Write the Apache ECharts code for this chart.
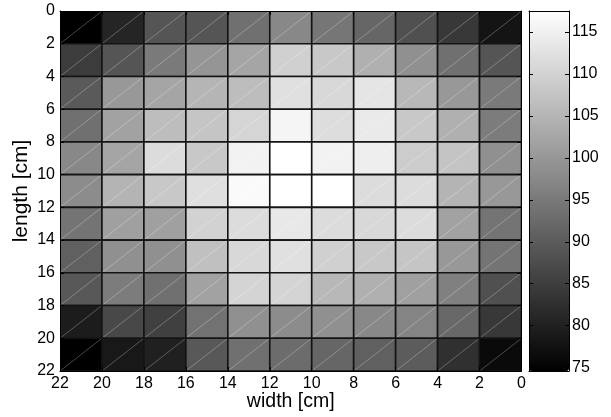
<!DOCTYPE html>
<html>
<head>
<meta charset="utf-8">
<script src="https://cdn.jsdelivr.net/npm/echarts@6/dist/echarts.min.js"></script>
<style>
html,body{margin:0;padding:0;background:#fff;}
#chart{width:611px;height:417px;}
</style>
</head>
<body>
<div id="chart"></div>
<script>
// column centres (width, cm), left to right as drawn
const widthCenters = [21, 19, 17, 15, 13, 11, 9, 7, 5, 3, 1];
// row centres (length, cm), top to bottom as drawn
const lengthCenters = [1, 3, 5, 7, 9, 11, 13, 15, 17, 19, 21];
// cell values, one array per row (length band)
const len_0_2   = [74.6, 80.8, 88.9, 88.9, 93.4, 97.5, 94.5, 91.8, 88.1, 84.0, 78.0];
const len_2_4   = [84.7, 88.9, 95.1, 99.7, 102.4, 109.6, 108.2, 104.2, 98.8, 93.4, 88.9];
const len_4_6   = [89.7, 100.2, 102.4, 105.1, 106.4, 112.3, 111.0, 113.1, 105.6, 100.2, 95.1];
const len_6_8   = [93.4, 101.9, 106.4, 107.7, 110.4, 115.8, 111.8, 114.0, 108.2, 104.2, 95.5];
const len_8_10  = [97.5, 102.4, 111.6, 108.2, 115.3, 117.5, 115.3, 114.6, 108.9, 107.6, 98.8];
const len_10_12 = [98.2, 104.9, 108.2, 112.1, 116.7, 117.5, 117.5, 111.6, 111.6, 104.9, 100.2];
const len_12_14 = [94.1, 101.5, 101.5, 109.9, 111.6, 113.6, 111.6, 111.0, 111.6, 101.9, 94.1];
const len_14_16 = [90.7, 98.8, 98.8, 106.9, 111.0, 112.3, 109.6, 108.2, 107.7, 100.2, 94.1];
const len_16_18 = [89.4, 95.5, 93.4, 101.9, 110.3, 110.3, 105.6, 104.2, 101.5, 96.1, 88.1];
const len_18_20 = [79.3, 86.7, 85.4, 93.8, 98.8, 98.2, 98.8, 97.5, 96.8, 92.1, 84.0];
const len_20_22 = [74.6, 78.6, 80.0, 89.4, 93.4, 92.8, 91.8, 90.7, 90.1, 82.7, 76.3];
const valueRows = [len_0_2, len_2_4, len_4_6, len_6_8, len_8_10, len_10_12,
                   len_12_14, len_14_16, len_16_18, len_18_20, len_20_22];
const axisTickValues = [0, 2, 4, 6, 8, 10, 12, 14, 16, 18, 20, 22];
const colorbarTicks = [75, 80, 85, 90, 95, 100, 105, 110, 115];
const colorMin = 74.6, colorMax = 117.5;

const cells = [];
valueRows.forEach((row, i) => {
  row.forEach((v, j) => cells.push([widthCenters[j], lengthCenters[i], v]));
});

const FONT = 'Liberation Sans, Arial, sans-serif';
const labelStyle = {color: '#000', fontSize: 16, fontFamily: FONT};
const lineBlack = {lineStyle: {color: '#000', width: 1}};

const chart = echarts.init(document.getElementById('chart'), null, {renderer: 'canvas'});

chart.setOption({
  animation: false,
  backgroundColor: '#fff',
  grid: [
    {left: 60, top: 11, width: 461.5, height: 360, containLabel: false, outerBoundsMode: 'none'},
    {left: 529, top: 11, width: 40, height: 360, containLabel: false, outerBoundsMode: 'none'}
  ],
  xAxis: [
    {
      type: 'value', gridIndex: 0, min: 0, max: 22, interval: 2, inverse: true,
      name: 'width [cm]', nameLocation: 'middle', nameGap: 21, nameMoveOverlap: false,
      nameTextStyle: {color: '#000', fontSize: 19.5, fontFamily: FONT},
      axisLine: {show: true, onZero: false, ...lineBlack},
      axisTick: {show: true, inside: true, length: 4, lineStyle: {color: '#000'}},
      axisLabel: {...labelStyle, margin: 5},
      splitLine: {show: false}, z: 10
    },
    {
      type: 'value', gridIndex: 0, min: 0, max: 22, interval: 2, inverse: true, position: 'top',
      axisLine: {show: true, onZero: false, ...lineBlack},
      axisTick: {show: true, inside: true, length: 4, lineStyle: {color: '#000'}},
      axisLabel: {show: false}, splitLine: {show: false}, z: 10
    },
    {
      type: 'value', gridIndex: 1, min: 0, max: 1, position: 'bottom',
      axisLine: {show: true, onZero: false, ...lineBlack},
      axisTick: {show: false}, axisLabel: {show: false}, splitLine: {show: false}, z: 10
    },
    {
      type: 'value', gridIndex: 1, min: 0, max: 1, position: 'top',
      axisLine: {show: true, onZero: false, ...lineBlack},
      axisTick: {show: false}, axisLabel: {show: false}, splitLine: {show: false}, z: 10
    }
  ],
  yAxis: [
    {
      type: 'value', gridIndex: 0, min: 0, max: 22, interval: 2, inverse: true,
      name: 'length [cm]', nameLocation: 'middle', nameGap: 28, nameRotate: 90, nameMoveOverlap: false,
      nameTextStyle: {color: '#000', fontSize: 21, fontFamily: FONT},
      axisLine: {show: true, onZero: false, ...lineBlack},
      axisTick: {show: true, inside: true, length: 4, lineStyle: {color: '#000'}},
      axisLabel: {...labelStyle, margin: 5},
      splitLine: {show: false}, z: 10
    },
    {
      type: 'value', gridIndex: 0, min: 0, max: 22, interval: 2, inverse: true, position: 'right',
      axisLine: {show: true, onZero: false, ...lineBlack},
      axisTick: {show: true, inside: true, length: 4, lineStyle: {color: '#000'}},
      axisLabel: {show: false}, splitLine: {show: false}, z: 10
    },
    {
      type: 'value', gridIndex: 1, min: colorMin, max: colorMax, position: 'right',
      axisLine: {show: true, onZero: false, ...lineBlack},
      axisTick: {show: true, inside: true, length: 4, customValues: colorbarTicks, lineStyle: {color: '#000'}},
      axisLabel: {...labelStyle, margin: 3, customValues: colorbarTicks},
      splitLine: {show: false}, z: 10
    },
    {
      type: 'value', gridIndex: 1, min: colorMin, max: colorMax, position: 'left',
      axisLine: {show: true, onZero: false, ...lineBlack},
      axisTick: {show: true, inside: true, length: 4, customValues: colorbarTicks, lineStyle: {color: '#000'}},
      axisLabel: {show: false, customValues: colorbarTicks},
      splitLine: {show: false}, z: 10
    }
  ],
  visualMap: {
    type: 'continuous',
    min: colorMin, max: colorMax,
    dimension: 2, seriesIndex: 0,
    left: 529, top: 11,
    itemWidth: 40, itemHeight: 360,
    padding: 0,
    text: null, showLabel: false,
    calculable: false, hoverLink: false, realtime: false,
    inRange: {color: ['#000000', '#ffffff']},
    textStyle: {color: 'transparent'}
  },
  series: [{
    type: 'custom',
    coordinateSystem: 'cartesian2d',
    xAxisIndex: 0, yAxisIndex: 0,
    encode: {x: 0, y: 1},
    data: cells,
    clip: true,
    renderItem: function (params, api) {
      const x = api.value(0), y = api.value(1);
      const a = api.coord([x + 1, y - 1]);
      const b = api.coord([x - 1, y + 1]);
      const rx = Math.min(a[0], b[0]), ry = Math.min(a[1], b[1]);
      const w = Math.abs(b[0] - a[0]), h = Math.abs(b[1] - a[1]);
      const color = api.visual('color');
      return {
        type: 'group',
        children: [
          {type: 'rect', shape: {x: rx, y: ry, width: w, height: h}, style: {fill: color, stroke: null}},
          {type: 'line', shape: {x1: rx, y1: ry + h, x2: rx + w, y2: ry},
           style: {stroke: 'rgba(255,255,255,0.35)', lineWidth: 0.8}},
          {type: 'rect', shape: {x: rx, y: ry, width: w, height: h},
           style: {fill: null, stroke: '#141414', lineWidth: 1.6}}
        ]
      };
    }
  }]
});
</script>
</body>
</html>
